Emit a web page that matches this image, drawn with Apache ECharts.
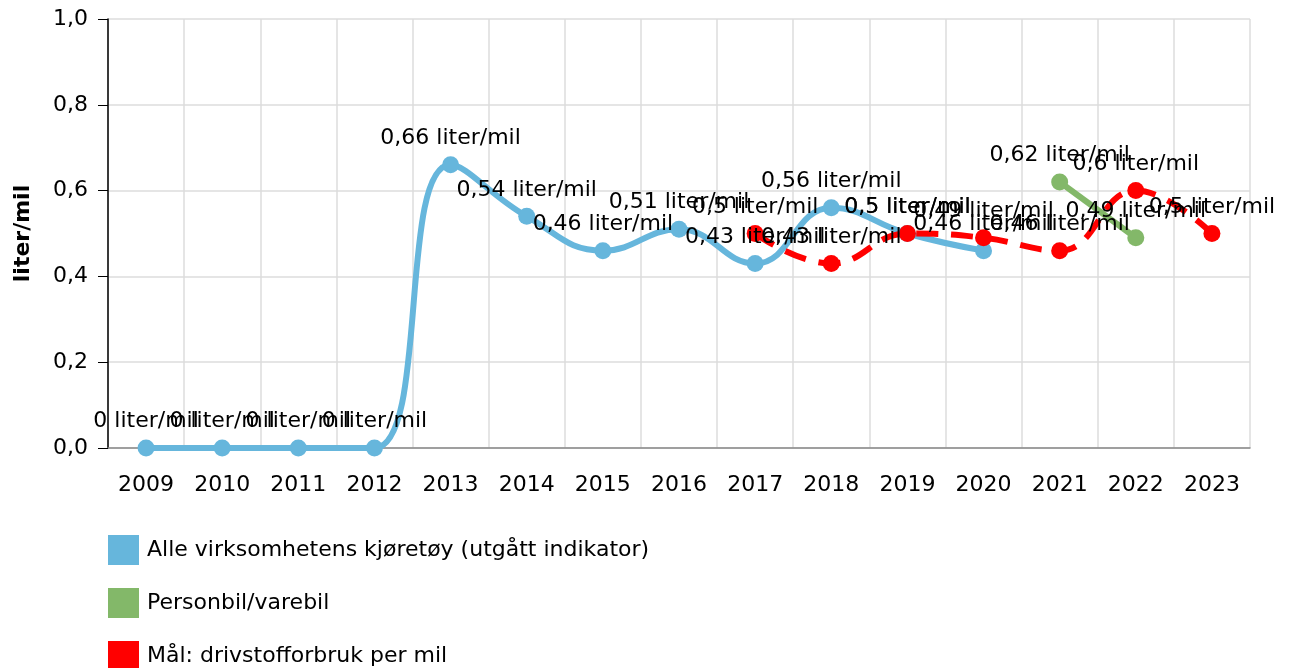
<!DOCTYPE html>
<html>
<head>
<meta charset="utf-8">
<script src="https://cdn.jsdelivr.net/npm/echarts@6/dist/echarts.min.js"></script>
<style>
  html, body { margin: 0; padding: 0; background: #fff; }
  #chart { width: 1292px; height: 668px; }
</style>
</head>
<body>
<div id="chart"></div>
<script>
// Årstall på x-aksen
const years = ['2009', '2010', '2011', '2012', '2013', '2014', '2015', '2016',
    '2017', '2018', '2019', '2020', '2021', '2022', '2023'];

// Alle virksomhetens kjøretøy (utgått indikator)
const alleKjoretoy = [0, 0, 0, 0, 0.66, 0.54, 0.46, 0.51, 0.43, 0.56, 0.5, 0.46, null, null, null];

// Personbil/varebil
const personbil = [null, null, null, null, null, null, null, null, null, null, null, null, 0.62, 0.49, null];

// Mål: drivstofforbruk per mil
const maal = [null, null, null, null, null, null, null, null, 0.5, 0.43, 0.5, 0.49, 0.46, 0.6, 0.5];

const yTicks = [0, 0.2, 0.4, 0.6, 0.8, 1.0];

const FONT = 'DejaVu Sans';
const FS = 22;
const comma = v => String(v).replace('.', ',');

const chart = echarts.init(document.getElementById('chart'));

function lineSeries(name, data, color, dashed) {
    return {
        name: name,
        type: 'line',
        data: data,
        smooth: 0.45,
        symbol: 'circle',
        symbolSize: 17,
        connectNulls: false,
        itemStyle: { color: color },
        lineStyle: { color: color, width: 6, type: dashed ? [22, 13] : 'solid' },
        label: {
            show: true,
            position: 'top',
            distance: 7,
            color: '#000',
            fontFamily: FONT,
            fontSize: FS,
            formatter: p => comma(p.value) + ' liter/mil'
        },
        emphasis: { disabled: true }
    };
}

chart.setOption({
    animation: false,
    grid: { left: 108, right: 42, top: 19, bottom: 220 },
    legend: {
        orient: 'vertical',
        left: 108,
        top: 535,
        height: 200,
        itemWidth: 31,
        itemHeight: 30,
        itemGap: 23,
        icon: 'rect',
        padding: 0,
        textStyle: { fontFamily: FONT, fontSize: FS, color: '#000', padding: [3, 0, 0, 3] },
        data: [
            { name: 'Alle virksomhetens kjøretøy (utgått indikator)', itemStyle: { color: '#66b6dc' } },
            { name: 'Personbil/varebil', itemStyle: { color: '#83b869' } },
            { name: 'Mål: drivstofforbruk per mil', itemStyle: { color: '#ff0000' } }
        ]
    },
    xAxis: {
        type: 'category',
        data: years,
        boundaryGap: true,
        axisLine: { lineStyle: { color: '#888', width: 1.5 } },
        axisTick: { show: false },
        axisLabel: { color: '#000', fontFamily: FONT, fontSize: FS, margin: 26 },
        splitLine: { show: true, lineStyle: { color: '#dcdcdc', width: 1.5 } }
    },
    yAxis: {
        type: 'value',
        min: 0,
        max: 1,
        interval: 0.2,
        name: 'liter/mil',
        nameLocation: 'middle',
        nameGap: 74,
        nameTextStyle: { color: '#000', fontFamily: FONT, fontSize: FS, fontWeight: 'bold' },
        axisLine: { show: true, lineStyle: { color: '#000', width: 1.5 } },
        axisTick: { show: true, length: 10, lineStyle: { color: '#000' } },
        axisLabel: {
            color: '#000', fontFamily: FONT, fontSize: FS, margin: 20,
            formatter: v => yTicks.includes(v) ? v.toFixed(1).replace('.', ',') : ''
        },
        splitLine: { show: true, lineStyle: { color: '#dcdcdc', width: 1.5 } }
    },
    series: [
        lineSeries('Alle virksomhetens kjøretøy (utgått indikator)', alleKjoretoy, '#66b6dc', false),
        lineSeries('Personbil/varebil', personbil, '#83b869', false),
        lineSeries('Mål: drivstofforbruk per mil', maal, '#ff0000', true)
    ]
});
</script>
</body>
</html>
